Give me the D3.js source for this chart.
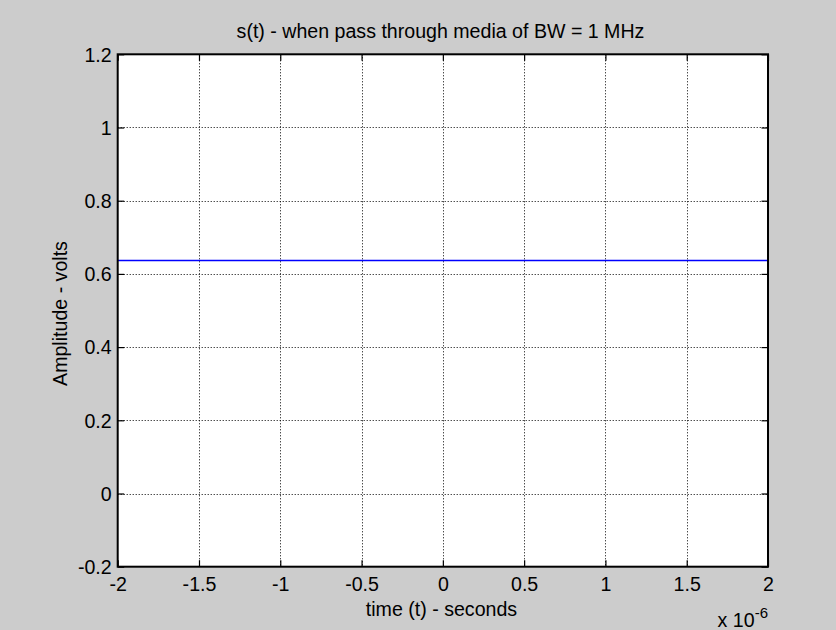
<!DOCTYPE html>
<html>
<head>
<meta charset="utf-8">
<script src="https://cdn.jsdelivr.net/npm/d3@7"></script>
<style>
  html, body { margin: 0; padding: 0; background: #cccccc; }
  svg { display: block; }
  text { font-family: "Liberation Sans", Arial, Helvetica, sans-serif; fill: #000; }
</style>
</head>
<body>
<svg id="chart" width="836" height="630"></svg>
<script>
// Received signal s(t) after a 1 MHz band-limited medium (time in seconds)
const timeSamples = [-2e-6, -1.5e-6, -1e-6, -0.5e-6, 0, 0.5e-6, 1e-6, 1.5e-6, 2e-6];
const amplitudeSamples = [0.6366, 0.6366, 0.6366, 0.6366, 0.6366, 0.6366, 0.6366, 0.6366, 0.6366];

const xTicks = [-2e-6, -1.5e-6, -1e-6, -0.5e-6, 0, 0.5e-6, 1e-6, 1.5e-6, 2e-6];
const xTickLabels = ["-2", "-1.5", "-1", "-0.5", "0", "0.5", "1", "1.5", "2"];
const yTicks = [-0.2, 0, 0.2, 0.4, 0.6, 0.8, 1, 1.2];
const yTickLabels = ["-0.2", "0", "0.2", "0.4", "0.6", "0.8", "1", "1.2"];

const titleText = "s(t) - when pass through media of BW = 1 MHz";
const xLabelText = "time (t) - seconds";
const yLabelText = "Amplitude - volts";

const W = 836, H = 630;
const box = { left: 117.7, right: 768, top: 54.3, bottom: 566.7 };
const fontSize = 19.6;

const svg = d3.select("#chart");

// figure background
svg.append("rect").attr("width", W).attr("height", H).attr("fill", "#cccccc");

const x = d3.scaleLinear().domain([-2e-6, 2e-6]).range([box.left, box.right]);
const y = d3.scaleLinear().domain([-0.2, 1.2]).range([box.bottom, box.top]);

// axes area
svg.append("rect")
  .attr("x", box.left).attr("y", box.top)
  .attr("width", box.right - box.left).attr("height", box.bottom - box.top)
  .attr("fill", "#ffffff");

// dotted grid
const grid = svg.append("g").attr("stroke", "#000").attr("stroke-width", 1)
  .attr("stroke-dasharray", "1,2").attr("fill", "none");
grid.selectAll("line.gx").data(xTicks.slice(1, -1)).join("line")
  .attr("class", "gx")
  .attr("x1", d => Math.round(x(d)) + 0.5).attr("x2", d => Math.round(x(d)) + 0.5)
  .attr("y1", box.top).attr("y2", box.bottom);
grid.selectAll("line.gy").data(yTicks.slice(1, -1)).join("line")
  .attr("class", "gy")
  .attr("y1", d => Math.round(y(d)) + 0.5).attr("y2", d => Math.round(y(d)) + 0.5)
  .attr("x1", box.left).attr("x2", box.right);

// signal trace
const line = d3.line().x((d, i) => x(timeSamples[i])).y(d => y(d));
svg.append("path")
  .datum(amplitudeSamples)
  .attr("d", line)
  .attr("fill", "none")
  .attr("stroke", "#0000ff")
  .attr("stroke-width", 1.3);

// axes with inward ticks on all four sides
const tickLen = 6.5;
const fmtX = d => xTickLabels[xTicks.indexOf(d)];
const fmtY = d => yTickLabels[yTicks.indexOf(d)];

const axBottom = svg.append("g").attr("transform", `translate(0,${box.bottom})`)
  .call(d3.axisBottom(x).tickValues(xTicks).tickSizeInner(-tickLen).tickSizeOuter(0).tickFormat(fmtX));
const axTop = svg.append("g").attr("transform", `translate(0,${box.top})`)
  .call(d3.axisTop(x).tickValues(xTicks).tickSizeInner(-tickLen).tickSizeOuter(0).tickFormat(""));
const axLeft = svg.append("g").attr("transform", `translate(${box.left},0)`)
  .call(d3.axisLeft(y).tickValues(yTicks).tickSizeInner(-tickLen).tickSizeOuter(0).tickFormat(fmtY));
const axRight = svg.append("g").attr("transform", `translate(${box.right},0)`)
  .call(d3.axisRight(y).tickValues(yTicks).tickSizeInner(-tickLen).tickSizeOuter(0).tickFormat(""));

[axBottom, axTop, axLeft, axRight].forEach(g => {
  g.select(".domain").remove();
  g.selectAll(".tick line").attr("stroke", "#000").attr("stroke-width", 1.2);
  g.selectAll("text").attr("font-size", fontSize).attr("fill", "#000")
    .attr("font-family", "'Liberation Sans', Arial, Helvetica, sans-serif");
});
axBottom.selectAll(".tick text").attr("y", 24.3).attr("dy", 0);
axLeft.selectAll(".tick text").attr("x", -6).attr("dy", "0.35em");

// axes box
svg.append("rect")
  .attr("x", box.left).attr("y", box.top)
  .attr("width", box.right - box.left).attr("height", box.bottom - box.top)
  .attr("fill", "none").attr("stroke", "#000").attr("stroke-width", 2);

// title and labels
svg.append("text")
  .attr("x", 440.5).attr("y", 37.5)
  .attr("text-anchor", "middle").attr("font-size", fontSize)
  .text(titleText);

svg.append("text")
  .attr("x", 441.5).attr("y", 616)
  .attr("text-anchor", "middle").attr("font-size", fontSize)
  .text(xLabelText);

svg.append("text")
  .attr("transform", `translate(67.3,${(box.top + box.bottom) / 2 + 3}) rotate(-90)`)
  .attr("text-anchor", "middle").attr("font-size", fontSize)
  .text(yLabelText);

// exponent marker for the time axis
const expo = svg.append("text")
  .attr("x", box.right).attr("y", 626.5)
  .attr("text-anchor", "end").attr("font-size", fontSize);
expo.append("tspan").text("x 10");
expo.append("tspan").attr("font-size", 15).attr("dy", -8.5).text("-6");
</script>
</body>
</html>
